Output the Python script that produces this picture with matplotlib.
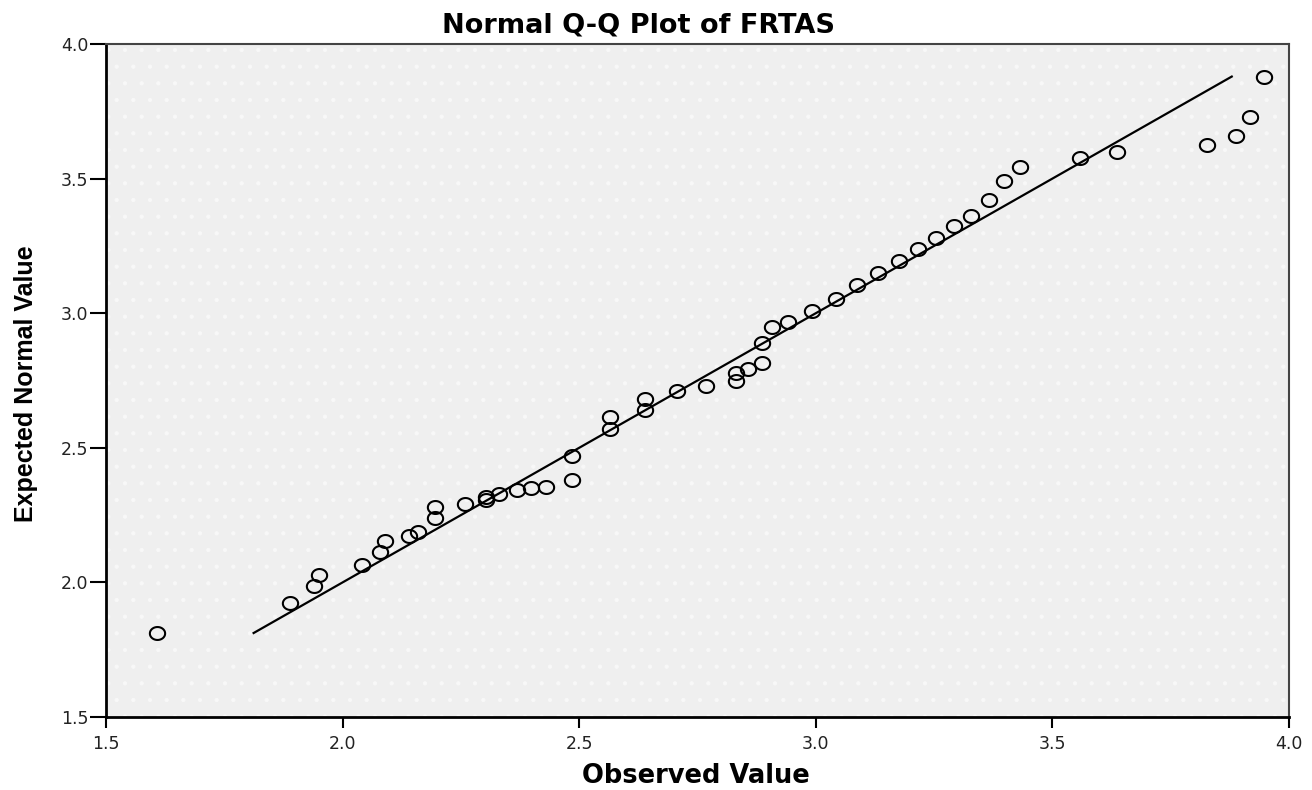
import matplotlib

matplotlib.use("Agg")
import matplotlib.pyplot as plt
import numpy as np
from matplotlib.patches import Rectangle
from matplotlib.path import Path

observed = [1.608, 1.889, 1.940, 1.950, 2.040, 2.078, 2.090, 2.140, 2.160,
            2.195, 2.195, 2.259, 2.302, 2.302, 2.331, 2.369, 2.398, 2.430,
            2.485, 2.485, 2.565, 2.565, 2.640, 2.640, 2.706, 2.769, 2.831,
            2.831, 2.857, 2.887, 2.887, 2.907, 2.942, 2.993, 3.042, 3.087,
            3.132, 3.176, 3.217, 3.255, 3.293, 3.329, 3.365, 3.398, 3.432,
            3.558, 3.636, 3.827, 3.887, 3.917, 3.948]
expected = [1.812, 1.923, 1.985, 2.027, 2.063, 2.112, 2.153, 2.172, 2.186,
            2.240, 2.281, 2.291, 2.306, 2.318, 2.330, 2.343, 2.349, 2.356,
            2.381, 2.469, 2.569, 2.616, 2.640, 2.680, 2.712, 2.730, 2.749,
            2.779, 2.791, 2.814, 2.888, 2.950, 2.967, 3.007, 3.053, 3.103,
            3.148, 3.193, 3.237, 3.278, 3.323, 3.360, 3.419, 3.491, 3.542,
            3.575, 3.598, 3.625, 3.659, 3.730, 3.879]

x_ticks = [1.5, 2.0, 2.5, 3.0, 3.5, 4.0]
y_ticks = [1.5, 2.0, 2.5, 3.0, 3.5, 4.0]

fig = plt.figure(figsize=(13.12, 7.9), dpi=100, facecolor="white")
ax = fig.add_axes([106 / 1312, 1 - 717 / 790, (1289 - 106) / 1312, (717 - 44) / 790])

# SPSS-like light grey background with faint dot pattern
ax.set_facecolor("#EFEFEF")
plt.rcParams["hatch.linewidth"] = 0.6
ax.add_patch(Rectangle((0, 0), 1, 1, transform=ax.transAxes, facecolor="none",
                       edgecolor="#F8F8F8", hatch=".", lw=0, zorder=0))

# reference line y = x over the range of expected values
lo, hi = min(expected), max(expected)
ax.plot([lo, hi], [lo, hi], color="black", lw=1.6, zorder=2)

# slightly wide ellipse marker (the picture is stretched horizontally)
t = np.linspace(0, 2 * np.pi, 60)
ell = Path(np.column_stack([1.18 * np.cos(t), np.sin(t)]), closed=True)
ax.plot(observed, expected, ls="none", marker=ell, ms=11, mfc="none",
        mec="black", mew=1.5, zorder=3)

ax.set_xlim(1.5, 4.0)
ax.set_ylim(1.5, 4.0)
ax.set_xticks(x_ticks)
ax.set_yticks(y_ticks)
ax.set_xticklabels([f"{v:.1f}" for v in x_ticks])
ax.set_yticklabels([f"{v:.1f}" for v in y_ticks])
ax.tick_params(axis="x", length=8, width=1.5, pad=5, labelsize=12.5,
               labelcolor="#222222")
ax.tick_params(axis="y", length=11.5, width=1.5, pad=1, labelsize=12.5,
               labelcolor="#222222")

for side in ("left", "bottom"):
    ax.spines[side].set_linewidth(2.0)
    ax.spines[side].set_color("black")
for side in ("top", "right"):
    ax.spines[side].set_linewidth(1.5)
    ax.spines[side].set_color("#444444")

fig.text(638 / 1312, 1 - 33 / 790, "Normal Q-Q Plot of FRTAS", ha="center",
         va="baseline", fontsize=19.5, fontweight="bold")
fig.text(696 / 1312, 1 - 783 / 790, "Observed Value", ha="center",
         va="baseline", fontsize=18.5, fontweight="bold")
fig.text(26 / 1312, 1 - 384 / 790, "Expected Normal Value", rotation=90,
         ha="center", va="center", fontsize=18, fontweight="bold",
         family=["Liberation Sans", "DejaVu Sans"])

fig.savefig("out.png", dpi=100)
